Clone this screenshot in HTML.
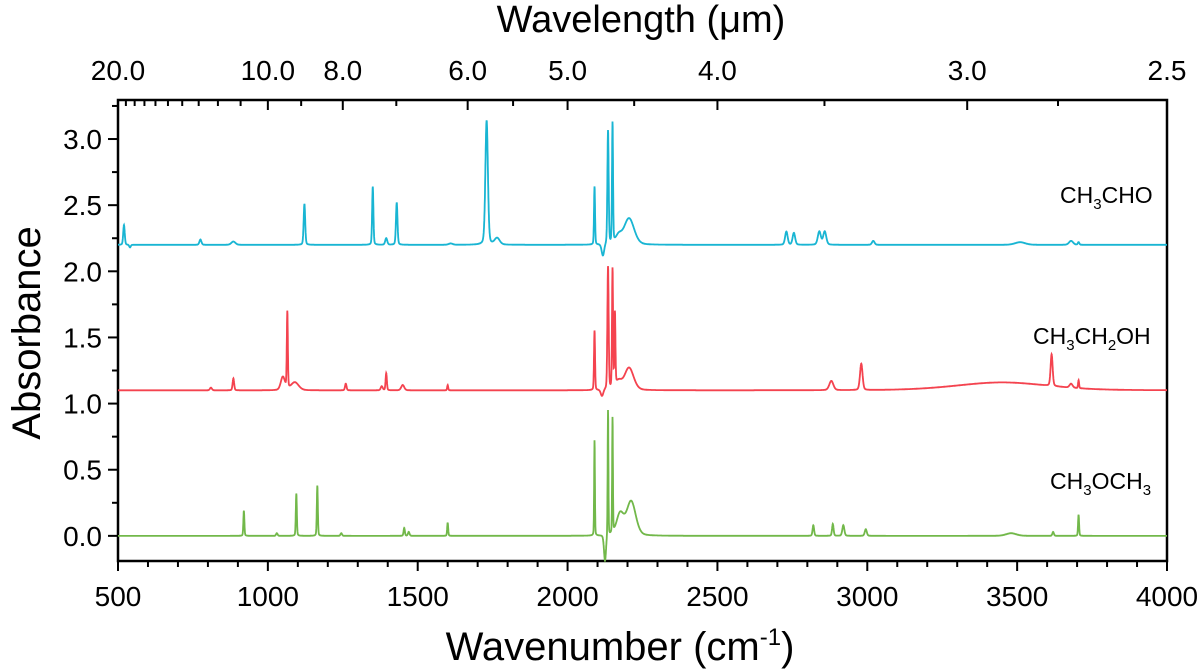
<!DOCTYPE html>
<html><head><meta charset="utf-8"><style>
html,body{margin:0;padding:0;background:#fff;}
svg{display:block;font-family:"Liberation Sans",Arial,sans-serif;}
</style></head><body>
<svg id="chart" width="1200" height="671" viewBox="0 0 1200 671" xmlns="http://www.w3.org/2000/svg" style="position:absolute;left:0;top:0">
<g id="axes"></g>
<g id="series"></g>
<g id="labels"></g>
</svg>
<script>
// ---- data ----
const xTicks = [500,1000,1500,2000,2500,3000,3500,4000];
const yTicks = [0.0,0.5,1.0,1.5,2.0,2.5,3.0];
const wlTicks = [20.0,10.0,8.0,6.0,5.0,4.0,3.0,2.5];
const wlMinor = [19,18,17,16,15,14,13,12,11,9,7,5.5,4.5,3.5,2.75];
// peaks: [center cm-1, height, half-width]
const choBase = 2.2;
const choPeaks = [[520,0.15,3],[540,-0.02,3],[775,0.04,4],[885,0.025,8],[1122,0.31,3],[1350,0.44,2.5],[1395,0.05,4],[1430,0.32,3],[1610,0.01,8],[1730,0.94,5],[1765,0.05,10],[2090,0.44,2],[2118,-0.09,5],[2135,0.86,2.5],[2150,0.91,2],[2170,0.06,12],[2205,0.2,20],[2730,0.1,5],[2755,0.09,5],[2840,0.1,6],[2858,0.1,6],[3020,0.03,5],[3510,0.02,20],[3680,0.03,8],[3705,0.02,3]];
const ethBase = 1.1;
const ethPeaks = [[810,0.02,4],[885,0.09,3],[1050,0.1,8],[1065,0.58,2],[1090,0.06,15],[1260,0.05,3],[1380,0.03,4],[1395,0.13,2.5],[1450,0.04,6],[1600,0.04,2],[2090,0.45,2],[2115,-0.05,5],[2135,0.93,2.5],[2150,0.9,2],[2158,0.55,2],[2170,0.06,12],[2205,0.17,18],[2880,0.07,8],[2980,0.2,5],[3450,0.06,180],[3615,0.24,4],[3680,0.03,6],[3705,0.06,2]];
const dmeBase = 0.0;
const dmePeaks = [[920,0.19,2],[1030,0.02,3],[1095,0.32,2],[1165,0.38,2],[1245,0.02,3],[1455,0.06,2.5],[1470,0.03,3],[1600,0.1,2],[2090,0.72,1.5],[2125,-0.2,4],[2135,0.95,1.5],[2150,0.87,1.5],[2175,0.16,14],[2212,0.26,18],[2820,0.08,3],[2885,0.09,3],[2920,0.08,4],[2995,0.05,4],[3480,0.02,20],[3620,0.03,3],[3705,0.16,2]];

// ---- axes ----
const L=118,R=1167,T=100,B=561;
const xMin=500,xMax=4000,yMin=-0.19,yMax=3.295;
const X=v=>L+(v-xMin)/(xMax-xMin)*(R-L);
const Y=v=>B-(v-yMin)/(yMax-yMin)*(B-T);
const NS="http://www.w3.org/2000/svg";
function mk(tag,attrs,parent){const e=document.createElementNS(NS,tag);for(const k in attrs)e.setAttribute(k,attrs[k]);parent.appendChild(e);return e;}
const ax=document.getElementById('axes'),lab=document.getElementById('labels'),ser=document.getElementById('series');
const frame=mk('rect',{x:L,y:T,width:R-L,height:B-T,fill:'none',stroke:'#000','stroke-width':2.5},ax);


for(let v=500;v<=4000;v+=100){
  const major=v%500===0;
  const t=mk('line',{x1:X(v),x2:X(v),y1:B,y2:B+(major?10:6),stroke:'#000','stroke-width':2},ax);
  
  
}
xTicks.forEach(v=>{
  const t=mk('text',{x:X(v),y:B+45,'text-anchor':'middle','font-size':28},lab);t.textContent=v;
  
  
});
for(let v=0;v<=3.25;v+=0.25){
  const major=Math.abs(v*2-Math.round(v*2))<1e-6;
  const t=mk('line',{x1:L-(major?10:6),x2:L,y1:Y(v),y2:Y(v),stroke:'#000','stroke-width':2},ax);
  
  
}
yTicks.forEach(v=>{
  const t=mk('text',{x:L-16,y:Y(v)+10,'text-anchor':'end','font-size':28},lab);t.textContent=v.toFixed(1);
  
  
});
wlTicks.forEach(w=>{
  const x=X(10000/w);
  const t=mk('line',{x1:x,x2:x,y1:T,y2:T+10,stroke:'#000','stroke-width':2},ax);
  
  
  const s=mk('text',{x:x,y:T-20,'text-anchor':'middle','font-size':28},lab);s.textContent=w.toFixed(1);
  
  
});
wlMinor.forEach(w=>{
  const x=X(10000/w);
  const t=mk('line',{x1:x,x2:x,y1:T,y2:T+6,stroke:'#000','stroke-width':2},ax);
  
  
});
// ---- series ----
function spec(base,peaks,color,name){
  let d='';
  for(let v=xMin;v<=xMax;v+=0.5){
    let y=base;
    for(const p of peaks){const u=(v-p[0])/p[2];y+=p[1]*(0.25/(1+u*u)+0.75*Math.exp(-0.693*u*u));}
    d+=(d?'L':'M')+X(v).toFixed(1)+','+Y(y).toFixed(1);
  }
  const e=mk('path',{d:d,fill:'none',stroke:color,'stroke-width':1.8},ser);
  
  
}
spec(choBase,choPeaks,'#19b5d3','ch3cho-spectrum');
spec(ethBase,ethPeaks,'#f4434f','ch3ch2oh-spectrum');
spec(dmeBase,dmePeaks,'#72b84a','ch3och3-spectrum');
</script>
<svg style="position:absolute;left:0;top:0" width="1200" height="671">
<text x="641" y="32" text-anchor="middle" font-size="38" font-family="Liberation Sans,sans-serif">Wavelength (μm)</text>
<text x="620" y="660" text-anchor="middle" font-size="40" font-family="Liberation Sans,sans-serif">Wavenumber (cm<tspan dy="-15" font-size="24">-1</tspan><tspan dy="15">)</tspan></text>
<text transform="translate(40,333) rotate(-90)" text-anchor="middle" font-size="40" font-family="Liberation Sans,sans-serif">Absorbance</text>
<text x="1060" y="203" font-size="23" font-family="Liberation Sans,sans-serif">CH<tspan dy="6" font-size="15">3</tspan><tspan dy="-6">CHO</tspan></text>
<text x="1033" y="344" font-size="23" font-family="Liberation Sans,sans-serif">CH<tspan dy="6" font-size="15">3</tspan><tspan dy="-6">CH</tspan><tspan dy="6" font-size="15">2</tspan><tspan dy="-6">OH</tspan></text>
<text x="1050" y="489" font-size="23" font-family="Liberation Sans,sans-serif">CH<tspan dy="6" font-size="15">3</tspan><tspan dy="-6">OCH</tspan><tspan dy="6" font-size="15">3</tspan></text>
</svg>
</body></html>
